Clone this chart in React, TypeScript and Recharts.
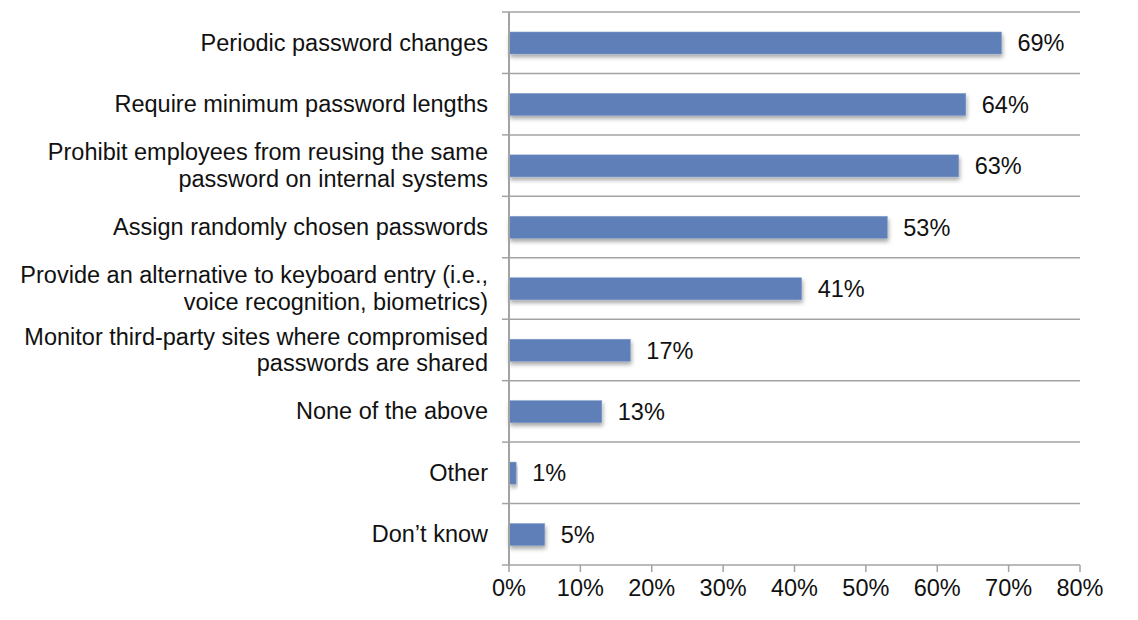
import React from "react";
import { BarChart, Bar, XAxis, YAxis, CartesianGrid, LabelList } from "recharts";

const categories: string[] = [
  "Periodic password changes",
  "Require minimum password lengths",
  "Prohibit employees from reusing the same\npassword on internal systems",
  "Assign randomly chosen passwords",
  "Provide an alternative to keyboard entry (i.e.,\nvoice recognition, biometrics)",
  "Monitor third-party sites where compromised\npasswords are shared",
  "None of the above",
  "Other",
  "Don\u2019t know",
];
const values: number[] = [69, 64, 63, 53, 41, 17, 13, 1, 5];
const xTicks: number[] = [0, 10, 20, 30, 40, 50, 60, 70, 80];

const data = categories.map((c, i) => ({ name: c, value: values[i] }));

const FONT = "'Liberation Sans', Arial, Helvetica, sans-serif";
const FS = 23.5;
const BAR = "#5f7fb8";
const LINE = "#a3a3a3";

const CategoryTick = (props: any) => {
  const { x, y, payload, index, visibleTicksCount } = props;
  const half = payload.offset ?? 30;
  const lines = String(payload.value).split("\n");
  const lh = 26.5;
  const startY = y - ((lines.length - 1) * lh) / 2;
  return (
    <g>
      <line x1={x - 7} x2={x} y1={y - half} y2={y - half} stroke={LINE} strokeWidth={1.5} />
      {index === visibleTicksCount - 1 && (
        <line x1={x - 7} x2={x} y1={y + half} y2={y + half} stroke={LINE} strokeWidth={1.5} />
      )}
      <text x={x - 21} y={startY} textAnchor="end" dominantBaseline="central" fontFamily={FONT} fontSize={FS} fill="#111">
        {lines.map((l, i) => (
          <tspan key={i} x={x - 21} dy={i === 0 ? 0 : lh}>{l}</tspan>
        ))}
      </text>
    </g>
  );
};

const ShadowBar = (props: any) => {
  const { x, y, width, height } = props;
  if (width == null || height == null) return null;
  return (
    <g>
      <defs>
        <filter id="barShadow" x="-10%" y="-30%" width="130%" height="180%">
          <feDropShadow dx={1} dy={3} stdDeviation={2} floodColor="#000" floodOpacity={0.35} />
        </filter>
      </defs>
      <rect x={x} y={y} width={width} height={height} fill={BAR} stroke="#7e9ac8" strokeWidth={0.5} filter="url(#barShadow)" />
    </g>
  );
};

export default function App() {
  return (
    <div style={{ position: "absolute", left: 0, top: 0, width: 1138, height: 620, background: "#fff" }}>
      <BarChart
        width={1138}
        height={620}
        data={data}
        layout="vertical"
        margin={{ top: 12, right: 58, bottom: 0, left: 0 }}
        barSize={22}
      >
        <CartesianGrid
          vertical={false}
          stroke={LINE}
          strokeWidth={1.5}
          horizontalCoordinatesGenerator={({ offset }: any) =>
            categories.map((_, i) => offset.top + (i * offset.height) / categories.length)
          }
        />
        <XAxis
          type="number"
          domain={[0, 80]}
          ticks={xTicks}
          tickFormatter={(v: number) => `${v}%`}
          axisLine={{ stroke: LINE, strokeWidth: 1.5 }}
          tickLine={{ stroke: LINE, strokeWidth: 1.5 }}
          tickSize={7}
          tickMargin={7}
          height={55}
          tick={{ fontFamily: FONT, fontSize: FS, fill: "#111" }}
        />
        <YAxis
          type="category"
          dataKey="name"
          width={509}
          axisLine={{ stroke: LINE, strokeWidth: 2 }}
          tickLine={false}
          tickSize={0}
          tickMargin={0}
          interval={0}
          tick={<CategoryTick />}
        />
        <Bar dataKey="value" isAnimationActive={false} shape={<ShadowBar />}>
          <LabelList
            dataKey="value"
            position="right"
            offset={16}
            formatter={(v: any) => `${v}%`}
            style={{ fontFamily: FONT, fontSize: FS, fill: "#111" }}
          />
        </Bar>
      </BarChart>
    </div>
  );
}
